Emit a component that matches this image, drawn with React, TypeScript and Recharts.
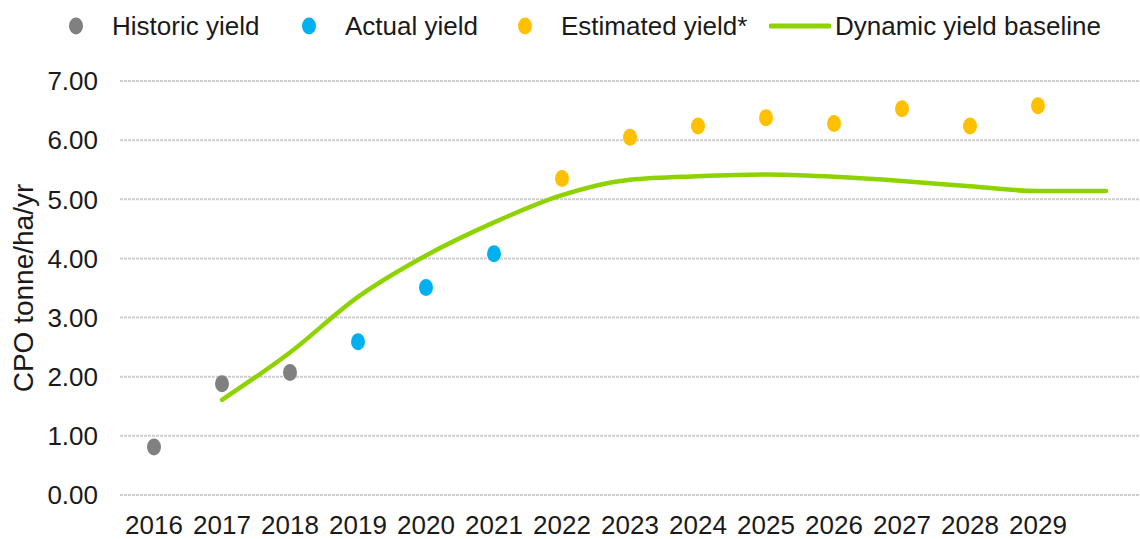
import React from 'react';
import { ComposedChart, Line, XAxis, YAxis, CartesianGrid } from 'recharts';

const categories = ['2016', '2017', '2018', '2019', '2020', '2021', '2022', '2023', '2024', '2025', '2026', '2027', '2028', '2029', '2030'];
const xTickLabels = ['2016', '2017', '2018', '2019', '2020', '2021', '2022', '2023', '2024', '2025', '2026', '2027', '2028', '2029', ''];
const historicYield = [0.81, 1.88, 2.07, null, null, null, null, null, null, null, null, null, null, null, null];
const actualYield = [null, null, null, 2.59, 3.51, 4.08, null, null, null, null, null, null, null, null, null];
const estimatedYield = [null, null, null, null, null, null, 5.35, 6.05, 6.24, 6.38, 6.28, 6.53, 6.24, 6.58, null];
const dynamicBaseline = [null, 1.61, 2.41, 3.35, 4.05, 4.61, 5.07, 5.33, 5.39, 5.42, 5.38, 5.31, 5.22, 5.14, 5.14];
const yTicks = [0, 1, 2, 3, 4, 5, 6, 7];

const data = categories.map((year, i) => ({
  year,
  historic: historicYield[i],
  actual: actualYield[i],
  estimated: estimatedYield[i],
  baseline: dynamicBaseline[i],
}));

const FONT = '"Liberation Sans", Arial, sans-serif';
const GREY = '#808080';
const BLUE = '#00B0F0';
const ORANGE = '#FFC000';
const GREEN = '#8ED300';
const TEXT = '#1a1a1a';

const makeDot = (color: string) => (props: any) => {
  const { cx, cy, index } = props;
  if (typeof cy !== 'number' || typeof cx !== 'number' || isNaN(cy)) return <g key={`e-${color}-${index}`} />;
  return <ellipse key={`d-${color}-${index}`} cx={cx} cy={cy} rx={7} ry={8.5} fill={color} />;
};

const legendItems = [
  { label: 'Historic yield', color: GREY, kind: 'dot', left: 69 },
  { label: 'Actual yield', color: BLUE, kind: 'dot', left: 302 },
  { label: 'Estimated yield*', color: ORANGE, kind: 'dot', left: 518 },
  { label: 'Dynamic yield baseline', color: GREEN, kind: 'line', left: 769 },
];

const YLabel = (props: any) => {
  const { viewBox } = props;
  const x = viewBox.x + 23;
  const y = viewBox.y + viewBox.height / 2;
  return (
    <text
      x={x}
      y={y}
      transform={`rotate(-90, ${x}, ${y})`}
      textAnchor="middle"
      dominantBaseline="central"
      fontSize={28}
      fontFamily={FONT}
      fill={TEXT}
    >
      CPO tonne/ha/yr
    </text>
  );
};

export default function App() {
  return (
    <div style={{ position: 'absolute', left: 0, top: 0, width: 1140, height: 539, background: '#fff' }}>
      <ComposedChart width={1140} height={539} data={data} margin={{ top: 81, right: 0, bottom: 0, left: 0 }}>
        <CartesianGrid vertical={false} stroke="#CDCDCD" strokeWidth={2} strokeDasharray="3 1" />
        <XAxis
          dataKey="year"
          scale="point"
          padding={{ left: 34, right: 34 }}
          axisLine={false}
          tickLine={false}
          tickSize={0}
          tickMargin={21}
          interval={0}
          height={44}
          tick={{ fontSize: 26, fill: TEXT, fontFamily: FONT }}
          tickFormatter={(v: any, i: number) => xTickLabels[i]}
        />
        <YAxis
          domain={[0, 7]}
          ticks={yTicks}
          width={120}
          axisLine={false}
          tickLine={false}
          tickSize={0}
          tickMargin={22}
          interval={0}
          tick={{ fontSize: 26, fill: TEXT, fontFamily: FONT }}
          tickFormatter={(v: number) => v.toFixed(2)}
          label={<YLabel />}
        />
        <Line
          dataKey="baseline"
          type="monotone"
          stroke={GREEN}
          strokeWidth={4.5}
          strokeLinecap="round"
          dot={false}
          activeDot={false}
          isAnimationActive={false}
        />
        <Line dataKey="historic" stroke="none" dot={makeDot(GREY)} activeDot={false} isAnimationActive={false} />
        <Line dataKey="actual" stroke="none" dot={makeDot(BLUE)} activeDot={false} isAnimationActive={false} />
        <Line dataKey="estimated" stroke="none" dot={makeDot(ORANGE)} activeDot={false} isAnimationActive={false} />
      </ComposedChart>
      {legendItems.map((it) => (
        <div
          key={it.label}
          style={{
            position: 'absolute',
            left: it.left,
            top: 8,
            height: 36,
            display: 'flex',
            alignItems: 'center',
            fontFamily: FONT,
            fontSize: 26,
            color: TEXT,
            whiteSpace: 'nowrap',
          }}
        >
          {it.kind === 'dot' ? (
            <svg width={14} height={18} style={{ marginRight: 29 }}>
              <ellipse cx={7} cy={9} rx={7} ry={8.5} fill={it.color} />
            </svg>
          ) : (
            <svg width={62} height={18} style={{ marginRight: 4 }}>
              <line x1={2} y1={9} x2={60} y2={9} stroke={it.color} strokeWidth={5} strokeLinecap="round" />
            </svg>
          )}
          <span>{it.label}</span>
        </div>
      ))}
    </div>
  );
}
